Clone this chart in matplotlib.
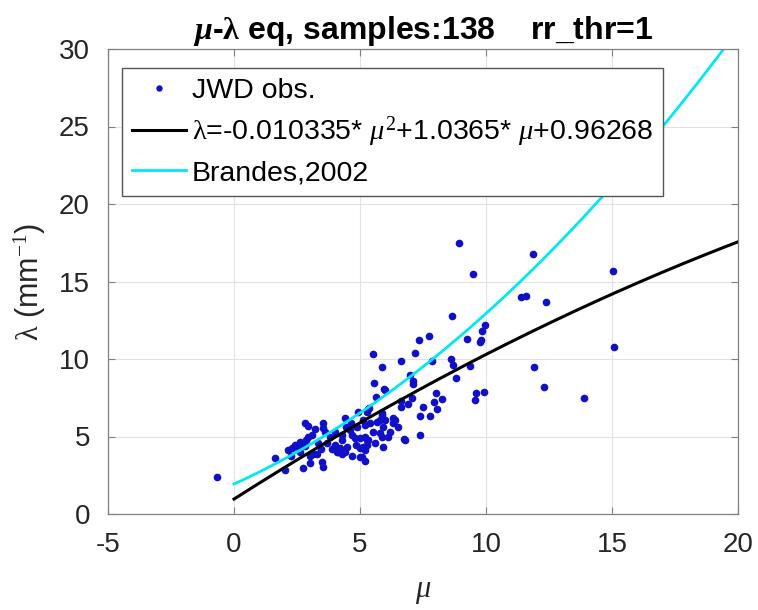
import numpy as np
import matplotlib
matplotlib.use("Agg")
import matplotlib.pyplot as plt

plt.rcParams["font.family"] = ["Liberation Sans", "DejaVu Sans"]
plt.rcParams["axes.unicode_minus"] = False
plt.rcParams["mathtext.fontset"] = "custom"
plt.rcParams["mathtext.rm"] = "Liberation Serif"
plt.rcParams["mathtext.it"] = "Liberation Serif:italic"
plt.rcParams["mathtext.bf"] = "Liberation Serif:bold"
plt.rcParams["mathtext.bfit"] = "Liberation Serif:bold:italic"

# Observed shape (mu) / slope (lambda) pairs from the JWD disdrometer
mu_obs = [
    -0.68, 1.63, 2.02, 2.74, 3.00, 3.50, 3.53, 2.14, 2.30, 2.42,
    2.62, 2.80, 2.82, 2.94, 3.53, 3.55, 3.60, 3.10, 2.95, 2.85,
    3.30, 3.15, 3.33, 3.80, 4.00, 4.10, 3.90, 4.40, 4.92, 5.28,
    5.40, 5.20, 5.67, 5.87, 6.00, 5.90, 6.40, 6.50, 5.80, 5.87,
    6.10, 5.90, 6.80, 5.00, 5.28, 5.28, 5.00, 5.20, 5.00, 4.80,
    4.60, 4.68, 4.29, 4.20, 4.40, 4.13, 4.30, 5.52, 5.56, 5.96,
    5.63, 5.36, 5.30, 6.63, 6.63, 5.87, 5.80, 7.38, 6.75, 5.87,
    6.63, 7.18, 7.34, 7.74, 8.65, 8.93, 9.48, 9.96, 9.84, 9.25,
    9.76, 9.80, 7.87, 8.60, 8.70, 8.81, 9.37, 6.98, 7.10, 7.10,
    5.99, 7.06, 8.00, 8.25, 7.94, 8.05, 7.50, 9.60, 9.92, 9.56,
    7.38, 7.78, 6.30, 11.87, 15.04, 15.08, 11.40, 11.60, 12.40, 11.90,
    12.30, 13.90, 5.10, 5.20, 5.30, 5.10, 5.08, 4.50, 4.30, 4.70,
    5.20, 4.90, 4.65, 4.45, 3.70, 3.45, 2.60, 2.25, 3.00, 6.20,
    4.00, 3.20, 2.55, 4.85, 5.60, 5.50, 6.30, 6.90,
]
lam_obs = [
    2.40, 3.60, 2.84, 2.97, 3.30, 3.35, 3.03, 4.13, 4.26, 4.45,
    4.65, 4.40, 5.87, 5.68, 5.87, 5.55, 5.30, 5.10, 4.95, 4.75,
    3.90, 3.90, 4.58, 4.97, 4.45, 4.00, 4.20, 6.20, 6.60, 6.60,
    5.87, 5.74, 5.94, 6.40, 6.06, 5.60, 6.06, 5.60, 5.20, 4.97,
    4.97, 4.30, 4.77, 4.90, 4.77, 4.45, 4.26, 4.13, 3.68, 4.90,
    5.40, 5.10, 4.77, 4.26, 4.00, 4.00, 5.10, 10.30, 8.45, 8.06,
    7.55, 6.85, 6.75, 7.30, 6.90, 6.50, 6.06, 5.10, 4.84, 9.50,
    9.90, 10.40, 11.20, 11.50, 12.80, 17.50, 15.50, 12.20, 11.80, 11.30,
    11.10, 11.25, 9.90, 10.00, 9.60, 8.80, 9.55, 9.00, 8.60, 8.40,
    8.00, 7.50, 7.80, 7.40, 7.20, 6.80, 6.90, 7.80, 7.90, 7.35,
    6.30, 6.30, 6.20, 16.80, 15.70, 10.80, 14.00, 14.05, 13.70, 9.50,
    8.20, 7.50, 6.06, 5.00, 4.80, 4.30, 3.70, 4.30, 3.90, 3.75,
    3.40, 5.60, 5.90, 5.60, 4.60, 4.20, 4.00, 3.75, 3.75, 5.30,
    5.30, 5.50, 4.30, 4.45, 4.60, 5.30, 5.90, 7.10,
]

# Quadratic fit coefficients (a*mu^2 + b*mu + c)
fit_coef = [-0.010335, 1.0365, 0.96268]
brandes_coef = [0.0365, 0.735, 1.935]

mu_curve = np.linspace(0, 20, 400)
lam_fit = np.polyval(fit_coef, mu_curve)
lam_brandes = np.polyval(brandes_coef, mu_curve)

fig = plt.figure(figsize=(7.58, 6.10), dpi=100)
ax = fig.add_axes([108 / 758, 96 / 610, 630 / 758, 465 / 610])

ax.plot(mu_obs, lam_obs, ".", color="#1010c8", markersize=9,
        label="JWD obs.")
ax.plot(mu_curve, lam_fit, "-", color="black", linewidth=2.2,
        label=r"$\mathrm{\lambda}$=-0.010335* $\mu^2$+1.0365* $\mu$+0.96268")
ax.plot(mu_curve, lam_brandes, "-", color="#00e8f0", linewidth=2.0,
        label="Brandes,2002")

ax.set_xlim(-5, 20)
ax.set_ylim(0, 30)
ax.set_xticks([-5, 0, 5, 10, 15, 20])
ax.set_yticks([0, 5, 10, 15, 20, 25, 30])
ax.grid(True, color="#e2e2e2", linewidth=0.8)
ax.set_axisbelow(True)
for s in ax.spines.values():
    s.set_color("#808080")
    s.set_linewidth(0.9)
ax.tick_params(direction="in", length=5, color="#808080", labelsize=20,
               labelcolor="#262626", top=True, right=True, pad=13)

ax.set_xlabel(r"$\mu$", fontsize=22, color="#262626", labelpad=13)
ax.set_ylabel(r"$\mathrm{\lambda}$ (mm$^{\mathrm{-1}}$)", fontsize=22,
              color="#262626", labelpad=8)
ax.set_title(r"$\boldsymbol{\mu}$-$\mathbf{\lambda}$ eq, samples:138    rr_thr=1",
             fontsize=23, fontweight="bold", color="black", pad=7)

leg = ax.legend(loc="upper left", bbox_to_anchor=(0.022, 0.959), fontsize=20.5,
                borderaxespad=0, frameon=True, fancybox=False, framealpha=1,
                edgecolor="#555555", handlelength=1.9, handletextpad=0.2,
                borderpad=0.35, labelspacing=0.38, markerscale=0.8)
leg.get_frame().set_linewidth(1.0)

fig.savefig("out.png", dpi=100)
